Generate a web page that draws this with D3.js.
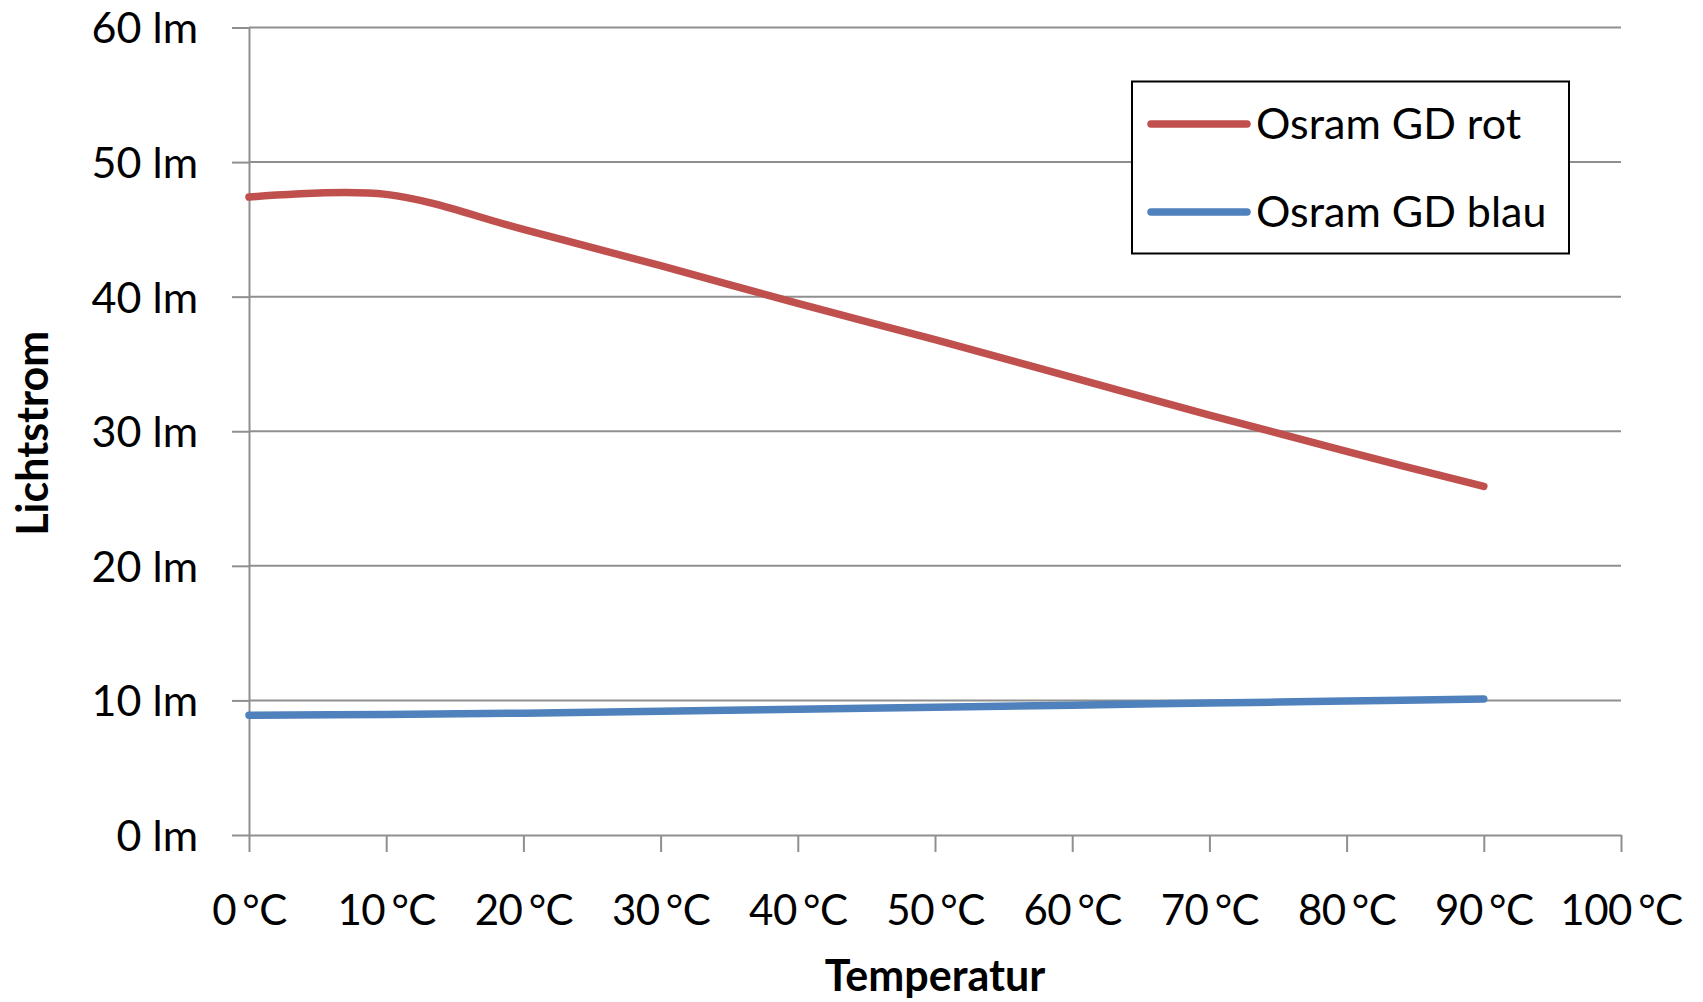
<!DOCTYPE html>
<html>
<head>
<meta charset="utf-8">
<script src="https://cdn.jsdelivr.net/npm/d3@7"></script>
<style>
  html, body { margin: 0; padding: 0; background: #fff; }
  svg { display: block; }
  text { font-family: Lato, "Open Sans", sans-serif; fill: #000; }
</style>
</head>
<body>
<svg id="chart" width="1703" height="1002"></svg>
<script>
// Luminous flux of two Osram lamps over temperature
const temperatures = [0, 10, 20, 30, 40, 50, 60, 70, 80, 90];
const osramRot  = [47.4, 47.6, 45.0, 42.3, 39.5, 36.8, 34.0, 31.2, 28.5, 25.9];
const osramBlau = [8.9, 8.95, 9.05, 9.2, 9.35, 9.5, 9.65, 9.8, 9.95, 10.1];
const seriesNames = ["Osram GD rot", "Osram GD blau"];
const xTickValues = [0, 10, 20, 30, 40, 50, 60, 70, 80, 90, 100];
const yTickValues = [0, 10, 20, 30, 40, 50, 60];

const svg = d3.select("#chart");
const plotLeft = 249, plotRight = 1621, plotTop = 27.5, plotBottom = 835;
const gridColor = "#8f8f8f";

const x = d3.scaleLinear().domain([0, 100]).range([plotLeft, plotRight]);
const y = d3.scaleLinear().domain([0, 60]).range([plotBottom, plotTop]);

// horizontal gridlines
svg.append("g").selectAll("line")
  .data(yTickValues.filter(v => v > 0))
  .join("line")
  .attr("x1", plotLeft).attr("x2", plotRight)
  .attr("y1", d => y(d)).attr("y2", d => y(d))
  .attr("stroke", gridColor).attr("stroke-width", 2);

// y axis
const yAxis = svg.append("g")
  .attr("transform", `translate(${plotLeft},0)`)
  .call(d3.axisLeft(y).tickValues(yTickValues).tickSizeInner(17).tickSizeOuter(0)
        .tickPadding(34).tickFormat(d => d + " lm"));
yAxis.select(".domain").attr("stroke", gridColor).attr("stroke-width", 2);
yAxis.selectAll(".tick line").attr("stroke", gridColor).attr("stroke-width", 2);
yAxis.selectAll(".tick text")
  .attr("font-size", 43).attr("font-family", "Lato").attr("fill", "#000")
  .attr("dy", "0.36em");

// x axis
const xAxis = svg.append("g")
  .attr("transform", `translate(0,${plotBottom})`)
  .call(d3.axisBottom(x).tickValues(xTickValues).tickSizeInner(17).tickSizeOuter(0)
        .tickPadding(0).tickFormat(d => d + " °C"));
xAxis.select(".domain").attr("stroke", gridColor).attr("stroke-width", 2);
xAxis.selectAll(".tick line").attr("stroke", gridColor).attr("stroke-width", 2);
xAxis.selectAll(".tick text")
  .attr("font-size", 42).attr("font-family", "Lato").attr("fill", "#000")
  .attr("word-spacing", -4).attr("letter-spacing", -0.5)
  .attr("y", 90).attr("dy", 0);

// axis titles
svg.append("text")
  .attr("x", x(50)).attr("y", 991)
  .attr("text-anchor", "middle")
  .attr("font-size", 43).attr("font-weight", "bold")
  .text("Temperatur");

svg.append("text")
  .attr("transform", `translate(48,${(plotTop + plotBottom) / 2 + 2}) rotate(-90)`)
  .attr("text-anchor", "middle")
  .attr("font-size", 43).attr("font-weight", "bold")
  .text("Lichtstrom");

// series lines
const line = d3.line()
  .x((d, i) => x(temperatures[i]))
  .y(d => y(d))
  .curve(d3.curveCatmullRom.alpha(0));

const colors = ["#C0504D", "#4F81BD"];
[osramRot, osramBlau].forEach((vals, k) => {
  svg.append("path")
    .datum(vals)
    .attr("d", line)
    .attr("fill", "none")
    .attr("stroke", colors[k])
    .attr("stroke-width", 7.5)
    .attr("stroke-linecap", "round")
    .attr("stroke-linejoin", "round");
});

// legend
const legend = svg.append("g");
legend.append("rect")
  .attr("x", 1132).attr("y", 81.5).attr("width", 437).attr("height", 172)
  .attr("fill", "#fff").attr("stroke", "#000").attr("stroke-width", 2);
const rows = [124, 212];
seriesNames.forEach((name, k) => {
  legend.append("line")
    .attr("x1", 1151).attr("x2", 1247)
    .attr("y1", rows[k]).attr("y2", rows[k])
    .attr("stroke", colors[k]).attr("stroke-width", 7.5)
    .attr("stroke-linecap", "round");
  legend.append("text")
    .attr("x", 1256).attr("y", rows[k]).attr("dy", "0.36em")
    .attr("font-size", 43)
    .text(name);
});
</script>
</body>
</html>
